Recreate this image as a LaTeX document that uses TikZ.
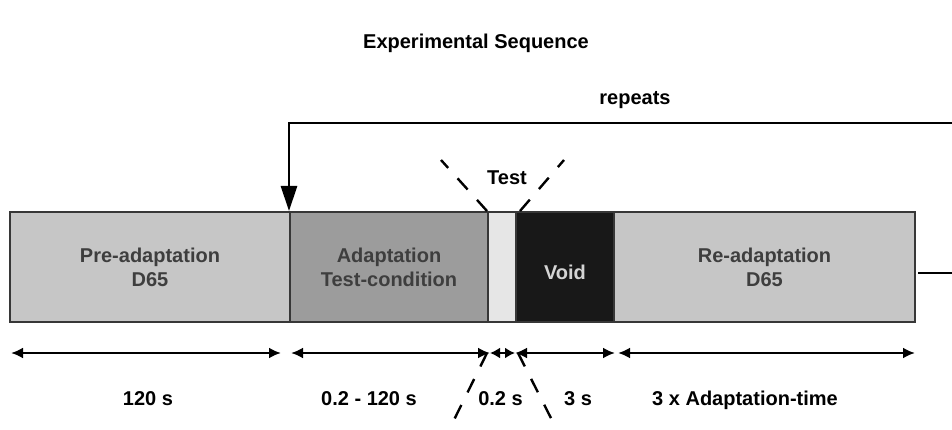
\documentclass[tikz,border=0pt]{standalone}
\usepackage{fontspec}
\setmainfont{Liberation Sans}
\usetikzlibrary{arrows.meta}
\definecolor{barline}{RGB}{55,55,55}
\definecolor{pregray}{RGB}{198,198,198}
\definecolor{adaptgray}{RGB}{156,156,156}
\definecolor{testgray}{RGB}{230,230,230}
\definecolor{voidgray}{RGB}{24,24,24}
\definecolor{labelgray}{RGB}{62,62,62}
\definecolor{voidtext}{RGB}{212,212,212}

\begin{document}
\begin{tikzpicture}[x=1pt, y=-1pt,
  seg/.style={rectangle, draw=barline, line width=2pt, minimum height=110pt, inner sep=0pt,
              align=center, text=labelgray, font=\fontsize{20}{24}\selectfont\bfseries},
  txt/.style={anchor=base, inner sep=0pt, font=\fontsize{20}{24}\selectfont\bfseries},
  dim/.style={line width=2.4pt, {Latex[length=12pt,width=11pt]}-{Latex[length=12pt,width=11pt]}},
  shortdim/.style={line width=2.4pt, {Latex[length=10pt,width=11pt]}-{Latex[length=10pt,width=11pt]}},
  guide/.style={line width=2.4pt, dash pattern=on 15pt off 14pt},
  loopline/.style={line width=2.8pt}
]
  \useasboundingbox (0,0) rectangle (952,430);

  % the sequence bar
  \node[seg, fill=pregray, minimum width=280pt] (pre) at (150,267) {Pre-adaptation\\D65};
  \node[seg, fill=adaptgray, minimum width=198pt] (adapt) at (389,267) {Adaptation\\Test-condition};
  \node[seg, fill=testgray, minimum width=28pt] (test) at (502,267) {};
  \node[seg, fill=voidgray, minimum width=98pt, text=voidtext, text height=24pt, text depth=0pt] (void) at (565,267) {Void};
  \node[seg, fill=pregray, minimum width=301pt] (readapt) at (764.5,267) {Re-adaptation\\D65};

  % titles
  \node[txt] (title) at (476,49) {Experimental Sequence};
  \node[txt] (repeats) at (635,105) {repeats};
  \node[txt] (testlbl) at (507,185) {Test};

  % repeat loop
  \coordinate (loopend) at (952,123);
  \coordinate (stubend) at (952,273);
  \draw[loopline, -{Triangle[length=25pt,width=16pt]}] (loopend) -- (loopend -| adapt.north west) -- (adapt.north west);
  \draw[loopline] ([xshift=2pt]readapt.east |- stubend) -- (stubend);

  % durations
  \coordinate (t0) at (11,353);
  \coordinate (t1) at (281,353);
  \coordinate (t2) at (291,353);
  \coordinate (t3) at (490,353);
  \coordinate (t4) at (515,353);
  \coordinate (t5) at (615,353);
  \coordinate (t6) at (618,353);
  \coordinate (t7) at (915,353);
  \draw[dim] (t0) -- (t1);
  \draw[dim] (t2) -- (t3);
  \draw[shortdim] (t3) -- (t4);
  \draw[dim] (t4) -- (t5);
  \draw[dim] (t6) -- (t7);

  \node[txt] (d1) at (148,405) {120 s};
  \node[txt] (d2) at (369,405) {0.2 - 120 s};
  \node[txt] (d3) at (500.5,405) {0.2 s};
  \node[txt] (d4) at (578,405) {3 s};
  \node[txt] (d5) at (745,405) {3 x Adaptation-time};

  % dashed guides round the test flash
  \coordinate (gtl) at (441,160);
  \coordinate (gtr) at (564,160);
  \coordinate (gbl) at (449,430);
  \coordinate (gbr) at (557,430);
  \draw[guide] (test.north west) -- (gtl);
  \draw[guide] ([xshift=3pt]test.north east) -- (gtr);
  \draw[guide] ([xshift=-3pt]t3) -- (gbl);
  \draw[guide] ([xshift=3pt]t4) -- (gbr);
\end{tikzpicture}
\end{document}
